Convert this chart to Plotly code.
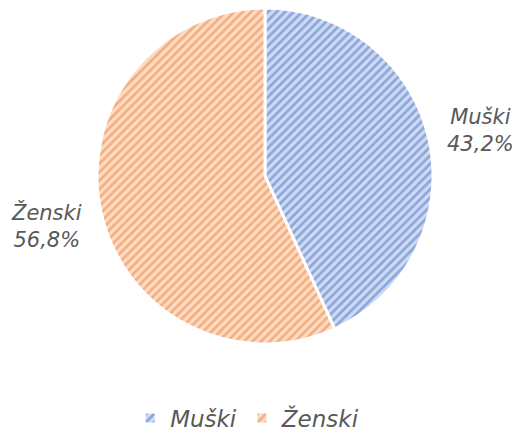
import plotly.graph_objects as go

labels = ["Muški", "Ženski"]
shares = [43.2, 56.8]
fill_colors = ["#cfdaf2", "#fcdcc6"]
stripe_colors = ["#4472c4", "#ed7d31"]
label_pos = [(480 / 517, 1 - 130 / 435), (46 / 517, 1 - 226 / 435)]

fig = go.Figure(
    go.Pie(
        labels=labels,
        values=shares,
        sort=False,
        direction="clockwise",
        rotation=0,
        textinfo="none",
        hoverinfo="label+percent",
        marker=dict(
            colors=fill_colors,
            line=dict(color="white", width=3),
            pattern=dict(shape="/", fgcolor=stripe_colors, size=6, solidity=0.45,
                         fillmode="overlay"),
        ),
        domain=dict(x=[96 / 517, 434 / 517], y=[1 - 344 / 435, 1 - 8 / 435]),
    )
)

for lab, val, (ax, ay) in zip(labels, shares, label_pos):
    fig.add_annotation(
        x=ax, y=ay, xref="paper", yref="paper",
        xanchor="center", yanchor="middle",
        text=f"<i>{lab}<br>{val:.1f}%".replace(".", ",") + "</i>",
        showarrow=False, align="center",
        font=dict(family="DejaVu Sans", size=21, color="#595959"),
    )

fig.update_layout(
    width=517, height=435,
    margin=dict(l=0, r=0, t=0, b=0, autoexpand=False),
    paper_bgcolor="white",
    separators=",.",
    legend=dict(
        orientation="h", x=0.479, xanchor="center", y=1 - 418 / 435, yanchor="middle",
        font=dict(family="DejaVu Sans", size=23, color="#595959", style="italic"),
        itemclick=False,
    ),
)

fig.write_html("out.html")
